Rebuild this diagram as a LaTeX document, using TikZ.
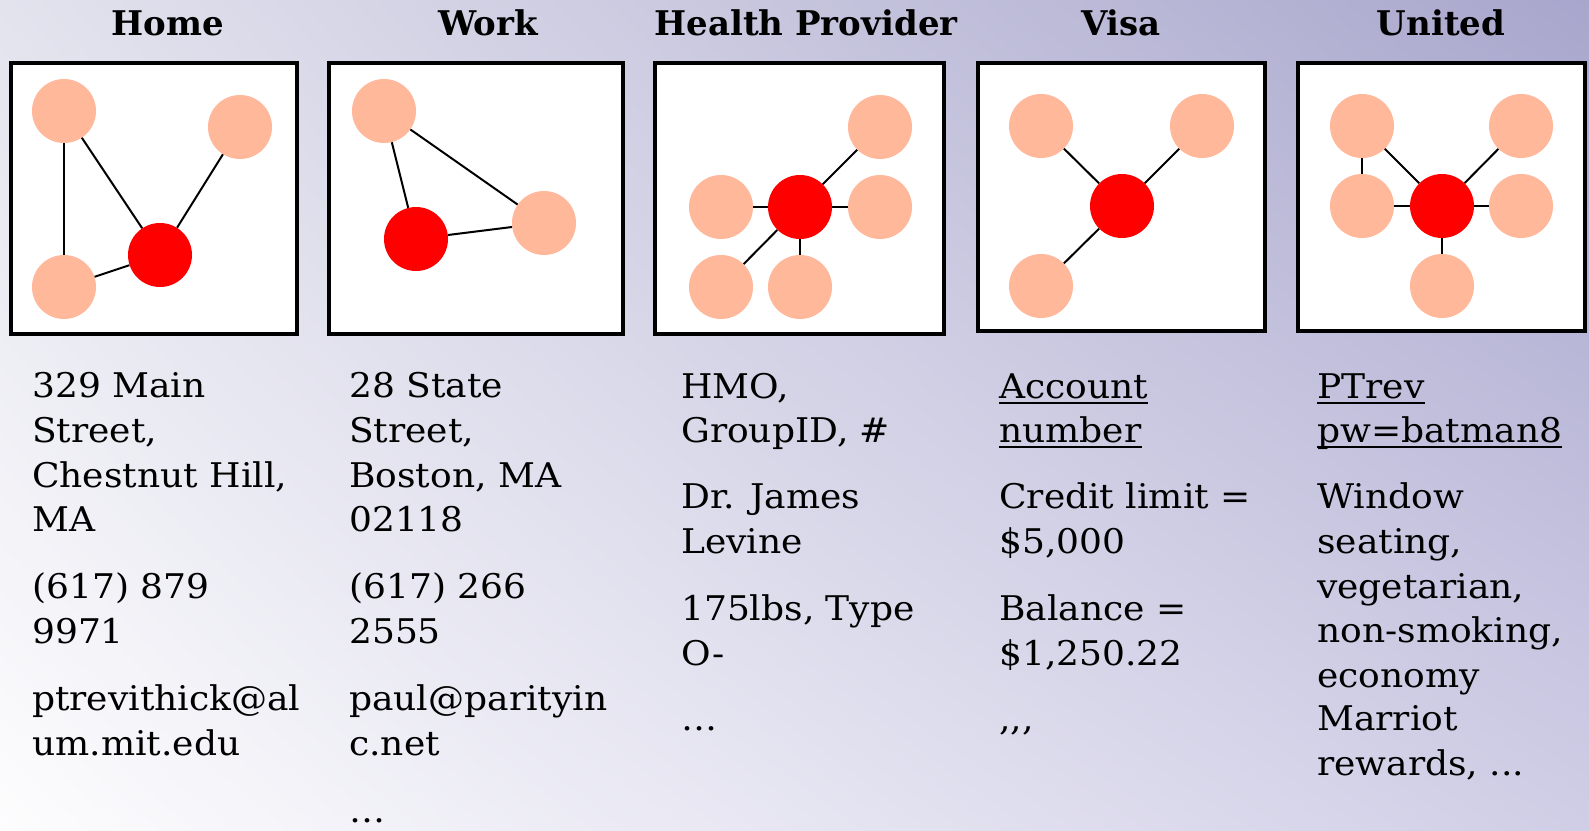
\documentclass[tikz,border=0pt]{standalone}
\usepackage{fontspec}
\setmainfont{DejaVu Serif}
\newfontfamily\bodyfont{DejaVu Serif}[FakeStretch=1.06]
\usetikzlibrary{shadings}
\definecolor{bgTL}{HTML}{E3E3EE}
\definecolor{bgTR}{HTML}{A8A6CC}
\definecolor{bgBL}{HTML}{FDFDFE}
\definecolor{bgBR}{HTML}{D0CEE6}
\definecolor{peach}{HTML}{FFB899}
\definecolor{hub}{HTML}{FF0000}
\newcommand\tline[4]{\node[txt] (#1) at (#2,#3) {#4};}
\newcommand\uline[1]{\draw[line width=2] ([yshift=-5pt]#1.base west) -- ([yshift=-5pt]#1.base east);}
\begin{document}
\begin{tikzpicture}[x=1pt,y=-1pt,
  frame/.style={draw=black,line width=4,fill=white},
  pc/.style={circle,fill=peach,minimum size=64,inner sep=0},
  rc/.style={circle,fill=hub,minimum size=64,inner sep=0},
  edge/.style={draw=black,line width=2},
  ttl/.style={anchor=base,inner sep=0,font=\fontsize{34}{40}\selectfont\bfseries},
  txt/.style={anchor=base west,inner sep=0,font=\bodyfont\fontsize{34}{40}\selectfont}]
\useasboundingbox (0,0) rectangle (1589,830);
\shade[upper left=bgTL,upper right=bgTR,lower left=bgBL,lower right=bgBR] (0,0) rectangle (1589,830);
% titles
\node[ttl] (t1) at (168,35) {Home};
\node[ttl] (t2) at (488,35) {Work};
\node[ttl] (t3) at (806,35) {Health Provider};
\node[ttl] (t4) at (1121,35) {Visa};
\node[ttl] (t5) at (1441,35) {United};
% frames
\draw[frame] (11,63) rectangle (297,334);
\draw[frame] (329,63) rectangle (623,334);
\draw[frame] (655,63) rectangle (944,334);
\draw[frame] (978,63) rectangle (1265,331);
\draw[frame] (1298,63) rectangle (1585,331);
% Home graph
\node[pc] (h1) at (64,111) {};
\node[pc] (h2) at (240,127) {};
\node[pc] (h3) at (64,287) {};
\node[rc] (h0) at (160,255) {};
\draw[edge] (h1) -- (h3);
\draw[edge] (h1) -- (h0);
\draw[edge] (h2) -- (h0);
\draw[edge] (h3) -- (h0);
% Work graph
\node[pc] (w1) at (384,111) {};
\node[pc] (w2) at (544,223) {};
\node[rc] (w0) at (416,239) {};
\draw[edge] (w1) -- (w0);
\draw[edge] (w1) -- (w2);
\draw[edge] (w0) -- (w2);
% Health graph
\node[pc] (p1) at (880,127) {};
\node[pc] (p2) at (721,207) {};
\node[pc] (p3) at (880,207) {};
\node[pc] (p4) at (721,287) {};
\node[pc] (p5) at (800,287) {};
\node[rc] (p0) at (800,207) {};
\foreach \n in {p1,p2,p3,p4,p5} \draw[edge] (p0) -- (\n);
% Visa graph
\node[pc] (v1) at (1041,126) {};
\node[pc] (v2) at (1202,126) {};
\node[pc] (v3) at (1041,286) {};
\node[rc] (v0) at (1122,206) {};
\foreach \n in {v1,v2,v3} \draw[edge] (v0) -- (\n);
% United graph
\node[pc] (u1) at (1362,126) {};
\node[pc] (u2) at (1521,126) {};
\node[pc] (u3) at (1362,206) {};
\node[pc] (u4) at (1521,206) {};
\node[pc] (u5) at (1442,286) {};
\node[rc] (u0) at (1442,206) {};
\draw[edge] (u1) -- (u3);
\foreach \n in {u1,u2,u3,u4,u5} \draw[edge] (u0) -- (\n);
% Home text
\tline{ha}{32}{397}{329 Main}
\tline{hb}{32}{442}{Street,}
\tline{hc}{32}{487}{Chestnut Hill,}
\tline{hd}{32}{531}{MA}
\tline{he}{32}{598}{(617) 879}
\tline{hf}{32}{643}{9971}
\tline{hg}{32}{710}{ptrevithick@al}
\tline{hh}{32}{755}{um.mit.edu}
% Work text
\tline{wa}{349}{397}{28 State}
\tline{wb}{349}{442}{Street,}
\tline{wc}{349}{487}{Boston, MA}
\tline{wd}{349}{531}{02118}
\tline{we}{349}{598}{(617) 266}
\tline{wf}{349}{643}{2555}
\tline{wg}{349}{710}{paul@parityin}
\tline{wh}{349}{755}{c.net}
\tline{wi}{349}{822}{\ldots}
% Health text
\tline{pa}{681}{398}{HMO,}
\tline{pb}{681}{442}{GroupID, \#}
\tline{pc}{681}{508}{Dr. James}
\tline{pd}{681}{553}{Levine}
\tline{pe}{681}{620}{175lbs, Type}
\tline{pf}{681}{665}{O-}
\tline{pg}{681}{730}{\ldots}
% Visa text
\tline{va}{999}{398}{Account}
\tline{vb}{999}{442}{number}
\tline{vc}{999}{508}{Credit limit =}
\tline{vd}{999}{553}{\$5,000}
\tline{ve}{999}{620}{Balance =}
\tline{vf}{999}{665}{\$1,250.22}
\tline{vg}{999}{730}{,{},{},}
\uline{va}
\uline{vb}
% United text
\tline{ua}{1317}{398}{PTrev}
\tline{ub}{1317}{442}{pw=batman8}
\tline{uc}{1317}{508}{Window}
\tline{ud}{1317}{553}{seating,}
\tline{ue}{1317}{598}{vegetarian,}
\tline{uf}{1317}{642}{non-smoking,}
\tline{ug}{1317}{687}{economy}
\tline{uh}{1317}{730}{Marriot}
\tline{ui}{1317}{775}{rewards, ...}
\uline{ua}
\uline{ub}
\end{tikzpicture}
\end{document}
